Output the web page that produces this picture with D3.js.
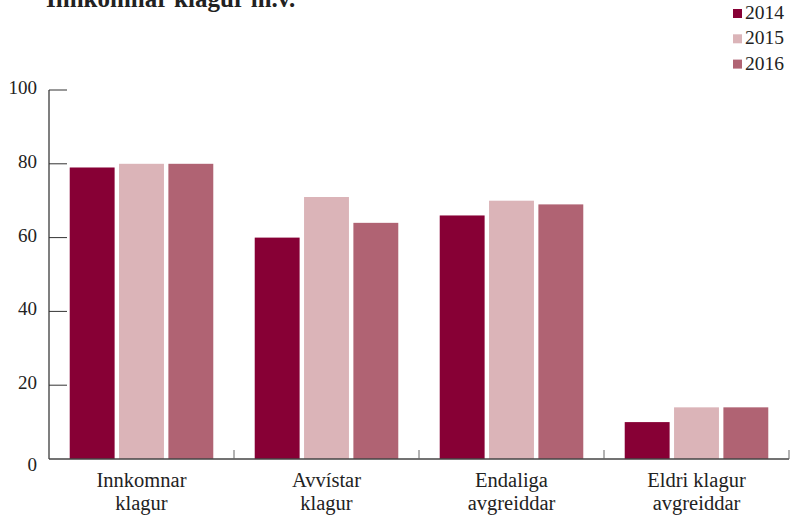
<!DOCTYPE html>
<html>
<head>
<meta charset="utf-8">
<script src="https://cdn.jsdelivr.net/npm/d3@7"></script>
<style>
  body { margin: 0; background: #fff; }
  svg { display: block; }
  svg text { font-family: "Liberation Serif", "DejaVu Serif", serif; }
</style>
</head>
<body>
<svg id="chart" width="790" height="519"></svg>
<script>
// data
const categories = [["Innkomnar", "klagur"], ["Avvístar", "klagur"], ["Endaliga", "avgreiddar"], ["Eldri klagur", "avgreiddar"]];
const years = ["2014", "2015", "2016"];
const values2014 = [79, 60, 66, 10];
const values2015 = [80, 71, 70, 14];
const values2016 = [80, 64, 69, 14];
const yTicks = [0, 20, 40, 60, 80, 100];
const colors = ["#870035", "#dbb4b8", "#b06373"];

const series = [values2014, values2015, values2016];
const FONT = '"Liberation Serif", "DejaVu Serif", serif';

const svg = d3.select('#chart');
const margin = { left: 49, right: 1, top: 90, bottom: 60 };
const width = 790, height = 519;

const x = d3.scaleBand()
    .domain(d3.range(categories.length))
    .range([margin.left, width - margin.right]);

const xInner = d3.scaleBand()
    .domain(d3.range(years.length))
    .range([0, x.bandwidth()])
    .paddingInner(0.09)
    .paddingOuter(0.42);

const y = d3.scaleLinear()
    .domain([0, 100])
    .range([height - margin.bottom, margin.top]);

// title (cut at top like the source)
svg.append('text')
    .attr('x', 46)
    .attr('y', 7)
    .attr('font-family', FONT)
    .attr('font-size', 25)
    .attr('font-weight', 'bold')
    .attr('fill', '#222')
    .text('Innkomnar klagur m.v.');

// bars
const groups = svg.selectAll('.group')
    .data(categories)
    .enter()
    .append('g')
    .classed('group', true)
    .attr('transform', (_, i) => `translate(${x(i)},0)`);

groups.selectAll('rect')
    .data((_, i) => series.map((s, k) => ({ k, v: s[i] })))
    .enter()
    .append('rect')
    .attr('x', d => xInner(d.k))
    .attr('width', xInner.bandwidth())
    .attr('y', d => y(d.v))
    .attr('height', d => y(0) - y(d.v))
    .attr('fill', d => colors[d.k]);

// y axis
const yAxis = svg.append('g');
yAxis.append('line')
    .attr('x1', margin.left).attr('x2', margin.left)
    .attr('y1', y(100)).attr('y2', y(0))
    .attr('stroke', '#555').attr('stroke-width', 1.5);

yAxis.selectAll('.ytick')
    .data(yTicks.filter(t => t > 0))
    .enter()
    .append('line')
    .attr('x1', margin.left).attr('x2', margin.left + 18)
    .attr('y1', d => y(d)).attr('y2', d => y(d))
    .attr('stroke', '#333').attr('stroke-width', 1);

yAxis.selectAll('.ylabel')
    .data(yTicks)
    .enter()
    .append('text')
    .attr('x', 37)
    .attr('y', d => d === 0 ? y(d) + 12 : y(d) + 4)
    .attr('text-anchor', 'end')
    .attr('font-family', FONT)
    .attr('font-size', 19)
    .attr('fill', '#222')
    .text(d => d);

// x axis
const xAxis = svg.append('g');
xAxis.append('line')
    .attr('x1', margin.left).attr('x2', width - 1)
    .attr('y1', y(0)).attr('y2', y(0))
    .attr('stroke', '#444').attr('stroke-width', 1.5);

xAxis.selectAll('.xtick')
    .data(d3.range(1, categories.length + 1))
    .enter()
    .append('line')
    .attr('x1', d => Math.min(x(0) + d * x.step(), width - 1))
    .attr('x2', d => Math.min(x(0) + d * x.step(), width - 1))
    .attr('y1', y(0) - 9).attr('y2', y(0))
    .attr('stroke', '#666').attr('stroke-width', 1);

const labels = xAxis.selectAll('.xlabel')
    .data(categories)
    .enter()
    .append('text')
    .attr('text-anchor', 'middle')
    .attr('font-family', FONT)
    .attr('font-size', 20.5)
    .attr('fill', '#222');

labels.selectAll('tspan')
    .data((d, i) => d.map(line => ({ line, i })))
    .enter()
    .append('tspan')
    .attr('x', d => x(d.i) + x.bandwidth() / 2)
    .attr('y', (_, j) => 487 + j * 23)
    .text(d => d.line);

// legend
const legend = svg.selectAll('.legend')
    .data(years)
    .enter()
    .append('g')
    .attr('transform', (_, i) => `translate(733, ${9 + i * 25.3})`);

legend.append('rect')
    .attr('width', 9).attr('height', 9)
    .attr('fill', (_, i) => colors[i]);

legend.append('text')
    .attr('x', 12).attr('y', 10)
    .attr('font-family', FONT)
    .attr('font-size', 19.5)
    .attr('fill', '#222')
    .text(d => d);
</script>
</body>
</html>
